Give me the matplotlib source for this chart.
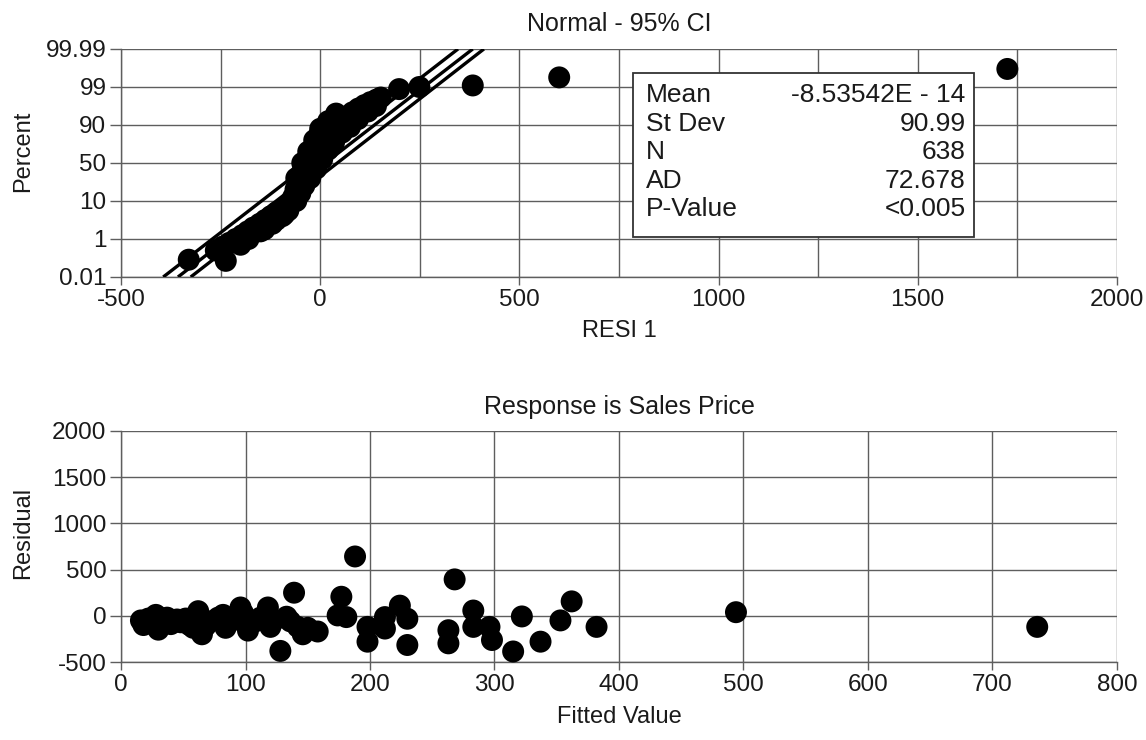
import numpy as np
import matplotlib
matplotlib.use("Agg")
import matplotlib.pyplot as plt
from matplotlib.patches import Rectangle

plt.rcParams['font.family'] = ['Liberation Sans', 'DejaVu Sans']
plt.rcParams['axes.unicode_minus'] = False

# ---------------- data ----------------
pct_levels = [0.01, 1, 10, 50, 90, 99, 99.99]
pct_labels = ["0.01", "1", "10", "50", "90", "99", "99.99"]

# normal probability plot points (residual, percent)
resid = [-330, -237, -262, -245, -228, -212, -196, -182, -168, -152, -138, -124,
         -110, -96, -84, -74, -68, -62, -56, -49, -40, -32, -24, -16, -8, 2, 12,
         24, 37, 52, 66, 81, 96, 111, 126, 141, 152, 198, 249, 383, 600, 1725,
         -200, -180, -150, -120, -95, -80, -60, -45, -30, -15, 0, 15, 30, 50,
         70, 90, 110, -5, 15, 40,
         -50, -40, -25, -10, 5, 20, 35, 55, 75, 95, 120, 140,
         -60, -45, -30, -15, 0, 20, 40, -140, -110, -90]
percent = [0.46, 0.43, 0.70, 0.80, 0.90, 1.0, 1.9, 2.8, 3.7, 4.6, 5.5, 6.4,
           7.3, 8.0, 8.7, 9.5, 14, 22, 30, 38, 44, 50, 56, 62, 68, 74, 79,
           84, 89, 90.9, 92, 93, 93.9, 94.7, 95.4, 96, 96.5, 98.5, 99.0, 99.04,
           99.25, 99.47,
           0.85, 1.0, 2.8, 4.6, 6.4, 7.75, 10, 26, 38, 48, 58, 66, 74, 84,
           90.5, 91.8, 93.2, 78, 88, 91.8,
           18, 26, 34, 44, 54, 64, 72, 82, 88, 91.4, 93.2, 94.5,
           34, 50, 62, 74, 86, 90.9, 92.7, 3.25, 5.5, 6.85]

# fit line and 95% CI (residual at 0.01% and at 99.99%)
line_lo_x = [-394, -357, -325]
line_hi_x = [346, 383, 411]

stat_names = ["Mean", "St Dev", "N", "AD", "P-Value"]
stat_values = ["-8.53542E - 14", "90.99", "638", "72.678", "<0.005"]

# residuals vs fitted
fitted = [16, 18, 22, 25, 28, 30, 33, 37, 40, 45, 48, 52, 55, 58, 62, 64, 65,
          68, 72, 78, 82, 84, 88, 92, 96, 98, 100, 102, 108, 112, 118, 120,
          123, 128, 133, 136, 139, 142, 146, 150, 158, 174, 177, 181, 188, 198,
          198, 212, 212, 224, 230, 230, 263, 263, 268, 283, 283, 296, 298, 315,
          322, 337, 353, 362, 382, 494, 736]
residual = [-50, -100, -30, -80, 10, -150, -60, -20, -90, -40, -70, -30, -100,
            -130, 50, -30, -200, -110, -60, -20, 10, -130, -60, -20, 90, 30,
            -80, -160, -60, -20, 90, -120, -50, -380, -10, -60, 250, -120,
            -200, -130, -170, 4, 206, -14, 642, -120, -280, -14, -138, 110,
            -32, -316, -156, -298, 394, 57, -120, -120, -262, -386, -7, -280,
            -50, 156, -120, 39, -120]

# ---------------- figure ----------------
fig = plt.figure(figsize=(11.46, 7.4), dpi=100)
ax1 = fig.add_axes([0.1056, 0.6257, 0.869, 0.3081])
ax2 = fig.add_axes([0.1056, 0.1054, 0.869, 0.3122])

idx = np.arange(len(pct_levels))
def fwd(p):
    return np.interp(p, pct_levels, idx)
def inv(i):
    return np.interp(i, idx, pct_levels)

grid_col = '#5e5e5e'
txt_col = '#1a1a1a'
tick_fs = 17.5
lab_fs = 17
title_fs = 18
stat_fs = 19
msize = 250

# --- top: normal probability plot ---
ax1.set_yscale('function', functions=(fwd, inv))
ax1.set_xlim(-500, 2000)
ax1.set_ylim(pct_levels[0], pct_levels[-1])
ax1.set_yticks(pct_levels)
ax1.set_yticklabels(pct_labels)
ax1.set_xticks(np.arange(-500, 2001, 500))
ax1.set_xticks(np.arange(-250, 2000, 500), minor=True)
ax1.yaxis.set_minor_locator(matplotlib.ticker.NullLocator())
ax1.grid(True, which='both', color=grid_col, lw=1.0)
ax1.tick_params(axis='x', which='minor', length=0)
ax1.set_axisbelow(True)

for x0, x1 in zip(line_lo_x, line_hi_x):
    ax1.plot([x0, x1], [pct_levels[0], pct_levels[-1]], color='black', lw=2.4,
             solid_capstyle='butt', zorder=3)
ax1.scatter(resid, percent, s=msize, color='black', edgecolors='none', zorder=4,
            clip_on=False)

ax1.set_title("Normal - 95% CI", fontsize=title_fs, color=txt_col, pad=13)
ax1.set_xlabel("RESI 1", fontsize=lab_fs, color=txt_col)
ax1.set_ylabel("Percent", fontsize=lab_fs, color=txt_col)
ax1.xaxis.set_label_coords(0.5, -0.19)
ax1.yaxis.set_label_coords(-0.087, 0.553)

box = Rectangle((0.514, 0.175), 0.343, 0.720, transform=ax1.transAxes,
                facecolor='white', edgecolor='#333333', lw=1.3, zorder=5)
ax1.add_patch(box)
row_y = [0.798, 0.673, 0.548, 0.423, 0.298]
for name, val, y in zip(stat_names, stat_values, row_y):
    ax1.text(0.527, y, name, transform=ax1.transAxes, fontsize=stat_fs,
             color=txt_col, va='center', ha='left', zorder=6)
    ax1.text(0.848, y, val, transform=ax1.transAxes, fontsize=stat_fs,
             color=txt_col, va='center', ha='right', zorder=6)

# --- bottom: residuals vs fitted ---
ax2.set_xlim(0, 800)
ax2.set_ylim(-500, 2000)
ax2.set_xticks(np.arange(0, 801, 100))
ax2.set_yticks(np.arange(-500, 2001, 500))
ax2.grid(True, color=grid_col, lw=1.0)
ax2.set_axisbelow(True)
ax2.scatter(fitted, residual, s=msize, color='black', edgecolors='none',
            zorder=4, clip_on=False)
ax2.set_title("Response is Sales Price", fontsize=title_fs, color=txt_col, pad=12.5)
ax2.set_xlabel("Fitted Value", fontsize=lab_fs, color=txt_col)
ax2.set_ylabel("Residual", fontsize=lab_fs, color=txt_col)
ax2.xaxis.set_label_coords(0.5, -0.19)
ax2.yaxis.set_label_coords(-0.087, 0.56)

for ax in (ax1, ax2):
    for side in ('top', 'right'):
        ax.spines[side].set_visible(False)
    for side in ('left', 'bottom'):
        ax.spines[side].set_color(grid_col)
        ax.spines[side].set_linewidth(1.0)
    ax.tick_params(which='major', labelsize=tick_fs, labelcolor=txt_col,
                   color=grid_col, width=1.0, direction='out')
    ax.tick_params(axis='y', which='major', length=8, pad=2.5)
    ax.tick_params(axis='x', which='major', length=6, pad=2.5)

fig.savefig("out.png", dpi=100, facecolor='white')
